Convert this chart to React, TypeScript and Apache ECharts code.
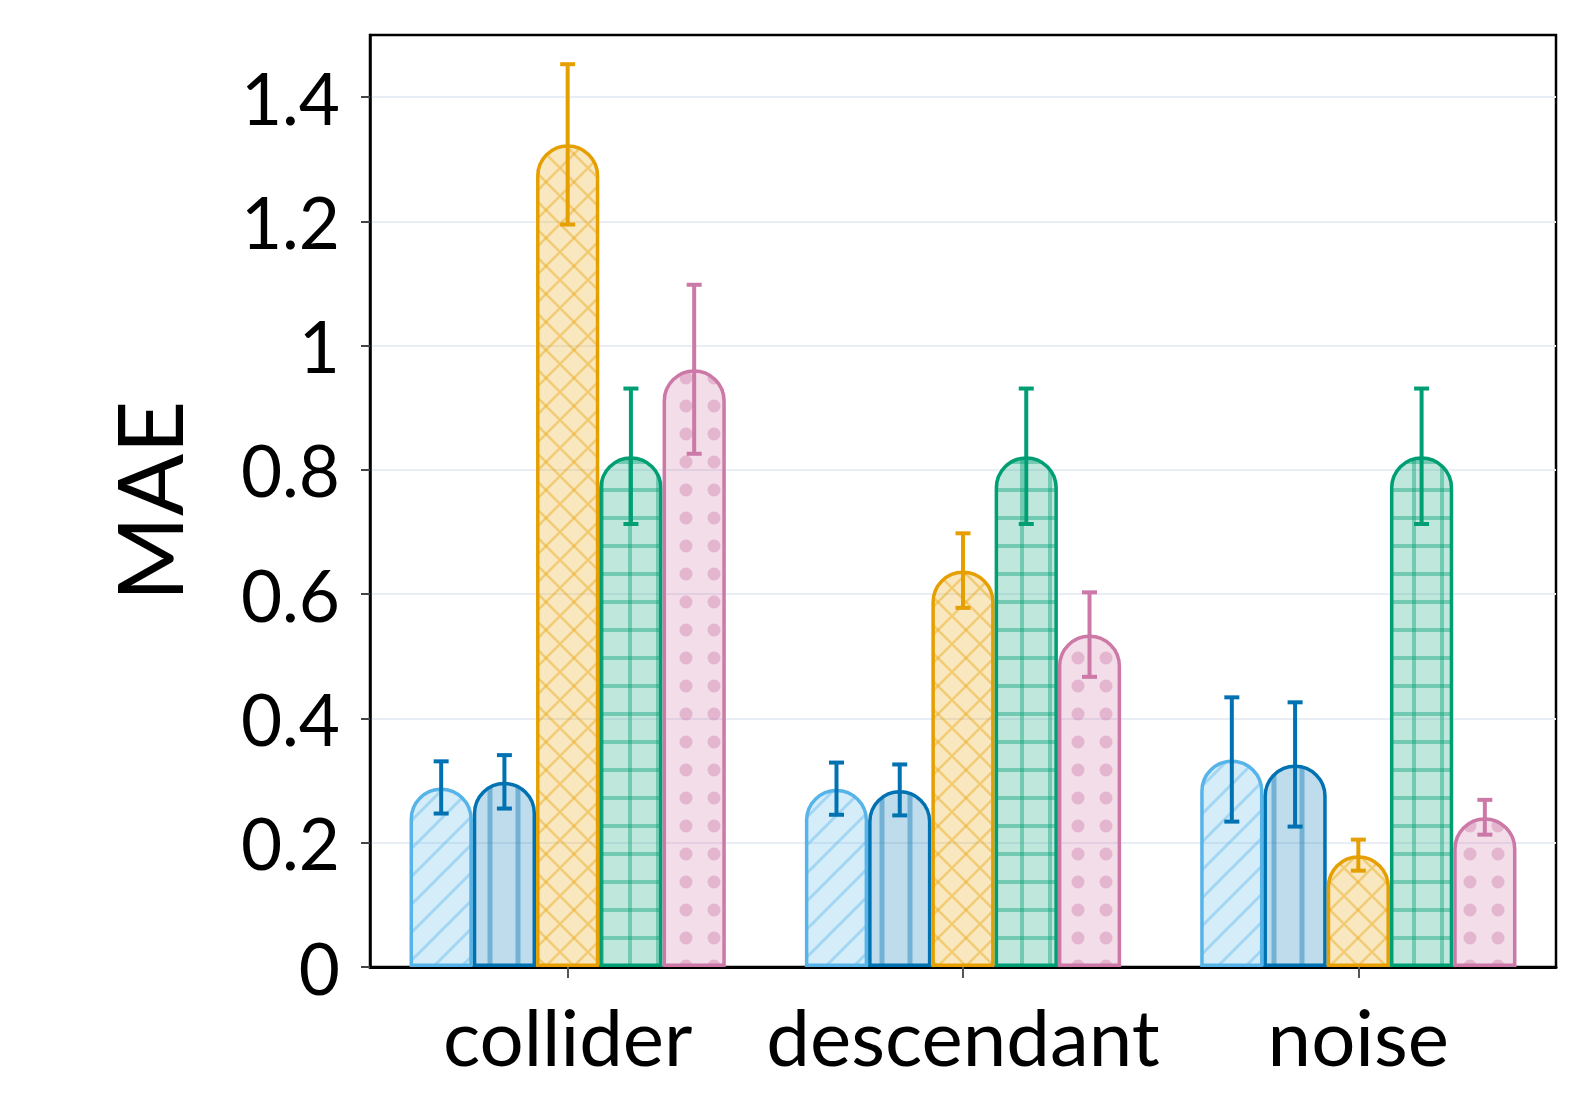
import React, { useEffect, useRef } from "react";
import * as echarts from "echarts";

const categories = ["collider", "descendant", "noise"];
const seriesNames = ["Model 1", "Model 2", "Model 3", "Model 4", "Model 5"];
const meanLightBlue = [0.289, 0.287, 0.334];
const meanBlue = [0.298, 0.285, 0.326];
const meanOrange = [1.324, 0.638, 0.18];
const meanGreen = [0.822, 0.822, 0.822];
const meanPink = [0.962, 0.535, 0.241];
const errLightBlue = [0.042, 0.042, 0.1];
const errBlue = [0.043, 0.041, 0.1];
const errOrange = [0.129, 0.06, 0.025];
const errGreen = [0.109, 0.109, 0.109];
const errPink = [0.136, 0.068, 0.028];
const yTicks = [0, 0.2, 0.4, 0.6, 0.8, 1, 1.2, 1.4];

const means = [meanLightBlue, meanBlue, meanOrange, meanGreen, meanPink];
const errs = [errLightBlue, errBlue, errOrange, errGreen, errPink];
const borderColors = ["#56B4E9", "#0072B2", "#E69F00", "#009E73", "#CC79A7"];
const errColors = ["#0072B2", "#0072B2", "#E69F00", "#009E73", "#CC79A7"];
const kinds = ["diag", "vert", "cross", "grid", "dots"];
const rgb = ["86,180,233", "0,114,178", "230,159,0", "0,158,115", "204,121,167"];

function makePattern(kind: string, c: string) {
  const s = 28;
  const cv = document.createElement("canvas");
  cv.width = s;
  cv.height = s;
  const ctx = cv.getContext("2d")!;
  ctx.fillStyle = `rgba(${c},0.25)`;
  ctx.fillRect(0, 0, s, s);
  ctx.strokeStyle = `rgba(${c},0.4)`;
  ctx.fillStyle = `rgba(${c},0.4)`;
  ctx.lineCap = "butt";
  const line = (x1: number, y1: number, x2: number, y2: number) => {
    ctx.beginPath();
    ctx.moveTo(x1, y1);
    ctx.lineTo(x2, y2);
    ctx.stroke();
  };
  if (kind === "diag") {
    ctx.lineWidth = 3;
    line(-4, s + 4, s + 4, -4);
    line(-4, 4, 4, -4);
    line(s - 4, s + 4, s + 4, s - 4);
  } else if (kind === "vert") {
    ctx.lineWidth = 5;
    line(s / 2, 0, s / 2, s);
  } else if (kind === "cross") {
    ctx.lineWidth = 2.5;
    line(-2, s + 2, s + 2, -2);
    line(-2, -2, s + 2, s + 2);
  } else if (kind === "grid") {
    ctx.lineWidth = 4;
    line(s / 2, 0, s / 2, s);
    line(0, s / 2, s, s / 2);
  } else if (kind === "dots") {
    ctx.beginPath();
    ctx.arc(s / 2, s / 2, 6.5, 0, Math.PI * 2);
    ctx.fill();
  }
  return { image: cv, repeat: "repeat", imageWidth: s, imageHeight: s };
}

export default function App() {
  const ref = useRef<HTMLDivElement>(null);
  useEffect(() => {
    const chart = echarts.init(ref.current!, null, { renderer: "svg" });
    const font = "Lato";
    const nSeries = seriesNames.length;
    const barSeries = seriesNames.map((name, k) => ({
      name,
      type: "bar",
      data: means[k],
      barGap: "0%",
      barCategoryGap: "20%",
      itemStyle: {
        color: makePattern(kinds[k], rgb[k]),
        borderColor: borderColors[k],
        borderWidth: 3.5,
        borderRadius: [60, 60, 0, 0],
      },
      z: 2,
    }));
    const errSeries = seriesNames.map((name, k) => ({
      name: name + " err",
      type: "custom",
      z: 5,
      data: categories.map((_, i) => [i, means[k][i], errs[k][i]]),
      encode: { x: 0, y: 1 },
      renderItem: (params: any, api: any) => {
        const ci = api.value(0);
        const m = api.value(1);
        const e = api.value(2);
        const c = api.coord([ci, m]);
        const band = api.size([1, 0])[0];
        const bw = (band * 0.8) / nSeries;
        const x = c[0] + (k - (nSeries - 1) / 2) * bw;
        const yTop = api.coord([ci, m + e])[1];
        const yBot = api.coord([ci, m - e])[1];
        const hw = 7.5;
        const st = { stroke: errColors[k], lineWidth: 4 };
        return {
          type: "group",
          children: [
            { type: "line", shape: { x1: x, y1: yTop, x2: x, y2: yBot }, style: st },
            { type: "line", shape: { x1: x - hw, y1: yTop, x2: x + hw, y2: yTop }, style: st },
            { type: "line", shape: { x1: x - hw, y1: yBot, x2: x + hw, y2: yBot }, style: st },
          ],
        };
      },
    }));
    chart.setOption({
      animation: false,
      backgroundColor: "#ffffff",
      grid: {
        left: 370,
        right: 21,
        top: 35,
        bottom: 146,
        containLabel: false,
        outerBoundsMode: "none",
        show: true,
        borderColor: "#000000",
        borderWidth: 2.5,
        backgroundColor: "transparent",
      },
      xAxis: {
        type: "category",
        data: categories,
        axisLine: { show: true, lineStyle: { color: "#000000", width: 3 } },
        axisTick: { show: true, alignWithLabel: true, length: 11, lineStyle: { color: "#555555", width: 2 } },
        axisLabel: {
          interval: 0,
          fontFamily: font,
          fontWeight: 400,
          fontSize: 78,
          color: "#000000",
          margin: 30,
        },
        splitLine: { show: false },
      },
      yAxis: {
        type: "value",
        min: 0,
        max: 1.5,
        name: "MAE",
        nameLocation: "middle",
        nameGap: 177,
        nameTextStyle: { fontFamily: font, fontWeight: 400, fontSize: 92, color: "#000000" },
        axisLine: { show: true, lineStyle: { color: "#000000", width: 2.5 } },
        axisTick: { show: true, length: 9, customValues: yTicks, lineStyle: { color: "#444444", width: 2 } },
        axisLabel: {
          fontFamily: font,
          fontWeight: 400,
          fontSize: 71,
          color: "#000000",
          margin: 30,
          customValues: yTicks,
        },
        splitLine: { show: true, lineStyle: { color: "#e9eef6", width: 2 } },
      },
      series: [...barSeries, ...errSeries],
    });
    return () => chart.dispose();
  }, []);
  return (
    <div
      ref={ref}
      style={{ position: "fixed", left: 0, top: 0, width: 1577, height: 1113, background: "#fff" }}
    />
  );
}
